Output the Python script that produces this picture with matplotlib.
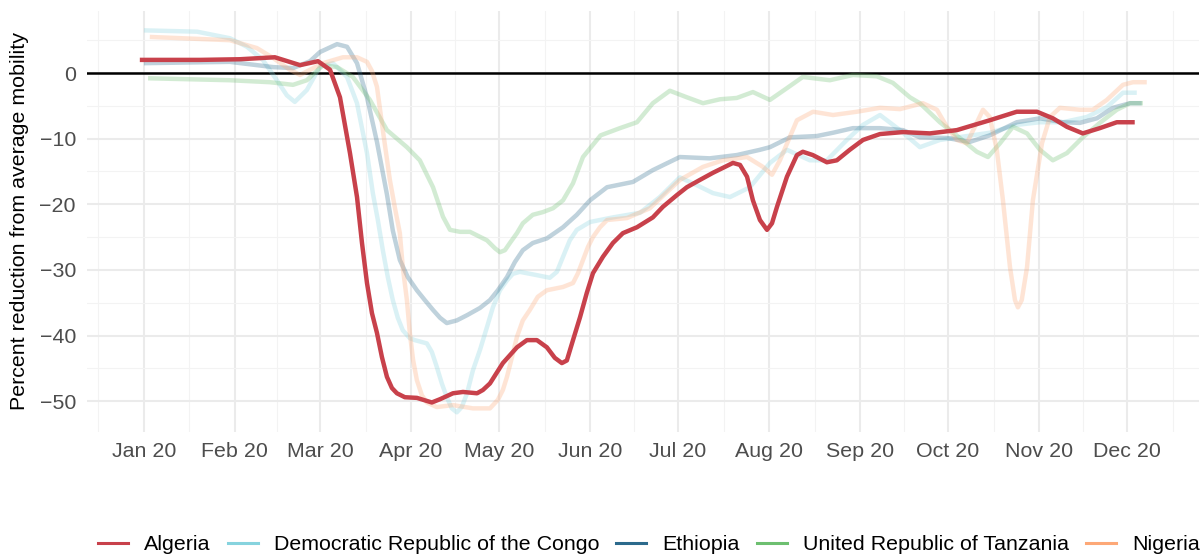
import numpy as np
import pandas as pd
import matplotlib
matplotlib.use("Agg")
import matplotlib.pyplot as plt
import matplotlib.dates as mdates
from matplotlib.lines import Line2D

plt.rcParams['font.family'] = ['Liberation Sans', 'DejaVu Sans']

# days since 2020-01-01 and mobility change (%) per country
algeria_days = [-1.4, 19.1, 32.7, 44.6, 53.2, 59.3, 63.4, 66.8, 70.2, 72.6, 74.3, 76.0, 77.7,
                79.4, 81.1, 82.8, 84.5, 86.2, 88.9, 93.0, 98.1, 100.9, 105.3, 108.7, 113.5,
                115.5, 117.9, 122.3, 127.1, 130.5, 133.9, 137.3, 140.0, 142.4, 144.1, 146.2,
                148.6, 150.9, 153.0, 156.4, 159.8, 163.2, 168.0, 173.4, 176.8, 181.6, 185.0,
                189.4, 193.9, 200.7, 203.1, 205.5, 207.5, 209.9, 212.3, 214.0, 215.7, 219.1,
                222.5, 224.5, 227.9, 232.7, 236.1, 240.5, 245.0, 250.8, 258.6, 267.8, 277.0,
                288.2, 297.4, 304.3, 309.7, 314.5, 319.9, 325.7, 331.5, 337.6]
algeria_vals = [2.0, 2.0, 2.1, 2.4, 1.2, 1.8, 0.5, -3.7, -12.2, -18.9, -25.9, -32.0, -36.6,
                -39.6, -43.3, -46.3, -48.0, -48.8, -49.4, -49.5, -50.2, -49.7, -48.8, -48.6,
                -48.8, -48.3, -47.3, -44.2, -41.8, -40.7, -40.7, -41.8, -43.4, -44.2, -43.8,
                -40.7, -37.2, -33.5, -30.5, -28.0, -25.9, -24.4, -23.5, -22.0, -20.4, -18.6,
                -17.4, -16.3, -15.2, -13.7, -14.0, -15.8, -19.4, -22.4, -23.9, -22.9, -20.4,
                -15.8, -12.5, -12.0, -12.5, -13.6, -13.3, -11.7, -10.2, -9.3, -9.0, -9.2,
                -8.7, -7.2, -5.9, -5.9, -6.9, -8.2, -9.2, -8.4, -7.5, -7.5]

drc_days = [0.0, 18.1, 29.3, 35.1, 40.5, 45.3, 48.7, 51.4, 55.5, 60.0, 64.4, 69.2, 72.6,
            76.0, 78.0, 79.7, 81.4, 83.1, 84.8, 86.5, 88.2, 90.6, 92.3, 96.4, 98.1, 99.8,
            101.5, 103.2, 104.9, 106.6, 108.3, 110.1, 112.1, 114.5, 116.9, 118.9, 121.3,
            123.7, 125.7, 128.1, 133.9, 138.3, 140.7, 142.8, 145.1, 147.5, 152.0, 159.8,
            169.0, 175.8, 182.6, 188.4, 193.9, 199.7, 206.5, 213.3, 219.1, 226.9, 232.7,
            239.5, 245.0, 250.8, 257.6, 264.4, 271.2, 279.0, 288.2, 297.4, 305.3, 313.1,
            321.3, 328.1, 333.6, 338.3]
drc_vals = [6.5, 6.3, 5.3, 4.0, 2.0, -1.1, -3.4, -4.4, -2.6, 1.0, 1.5, -0.6, -4.6, -12.2,
            -18.3, -22.4, -27.0, -31.1, -34.6, -37.3, -39.2, -40.4, -40.7, -41.2, -42.5,
            -44.8, -47.3, -49.4, -51.1, -51.7, -50.9, -48.8, -45.3, -42.2, -38.7, -35.7,
            -33.1, -31.6, -30.6, -30.3, -30.8, -31.2, -30.3, -28.0, -25.5, -23.9, -22.7,
            -22.0, -21.3, -18.9, -15.9, -17.1, -18.3, -18.9, -17.4, -13.7, -11.7, -13.3,
            -13.3, -10.2, -7.9, -6.4, -8.7, -11.3, -10.2, -9.7, -9.1, -7.9, -7.5, -7.5,
            -6.7, -5.2, -3.0, -3.0]

ethiopia_days = [0.0, 29.3, 44.0, 50.8, 56.6, 60.0, 65.8, 69.2, 72.6, 76.0, 79.4, 82.8,
                 84.8, 87.2, 89.9, 93.0, 95.7, 98.5, 100.9, 103.2, 106.6, 110.1, 114.5,
                 117.9, 120.6, 123.7, 126.4, 129.1, 132.5, 137.3, 142.8, 147.5, 152.0, 157.8,
                 166.6, 173.4, 182.6, 192.8, 202.0, 209.9, 213.3, 220.1, 229.3, 234.8, 241.6,
                 250.8, 258.6, 264.4, 273.6, 281.4, 288.2, 297.4, 305.3, 313.1, 318.9, 324.7,
                 330.2, 336.0, 340.0]
ethiopia_vals = [1.5, 1.7, 0.9, 0.75, 1.8, 3.2, 4.4, 4.0, 1.5, -3.7, -10.5, -18.5, -24.0,
                 -28.5, -31.1, -33.1, -34.6, -36.1, -37.3, -38.1, -37.7, -36.9, -35.8, -34.6,
                 -33.1, -31.1, -28.8, -27.0, -25.9, -25.2, -23.5, -21.6, -19.4, -17.4, -16.6,
                 -14.8, -12.8, -13.0, -12.5, -11.7, -11.3, -9.8, -9.6, -9.1, -8.4, -8.4,
                 -8.7, -9.8, -9.9, -10.5, -9.5, -7.5, -6.9, -7.5, -7.6, -6.9, -5.3, -4.6,
                 -4.6]

tanzania_days = [1.4, 29.3, 42.9, 50.8, 55.5, 61.0, 65.8, 71.2, 77.0, 82.8, 89.6, 94.0,
                 98.5, 101.9, 104.3, 107.7, 111.1, 116.9, 119.6, 121.3, 123.0, 124.7, 127.1,
                 129.1, 132.5, 135.9, 139.4, 142.8, 146.2, 149.6, 155.6, 162.2, 168.0, 173.4,
                 179.2, 185.0, 190.5, 196.3, 202.0, 207.5, 213.3, 219.1, 224.5, 233.7, 241.6,
                 249.7, 255.2, 261.0, 264.4, 271.2, 278.0, 283.8, 287.6, 291.7, 296.1, 300.9,
                 305.3, 309.7, 314.5, 319.9, 325.7, 331.5, 336.0, 340.4]
tanzania_vals = [-0.8, -1.1, -1.4, -1.8, -1.1, 1.2, 0.9, -0.6, -4.1, -8.7, -11.3, -13.3,
                 -17.4, -21.9, -23.9, -24.2, -24.2, -25.5, -26.7, -27.3, -27.0, -25.9, -24.4,
                 -22.9, -21.6, -21.2, -20.6, -19.4, -16.8, -12.8, -9.5, -8.4, -7.5, -4.6,
                 -2.7, -3.7, -4.6, -4.0, -3.8, -2.9, -4.1, -2.3, -0.6, -1.1, -0.3, -0.5,
                 -1.5, -3.7, -4.6, -7.5, -9.9, -12.0, -12.8, -10.7, -8.2, -9.2, -11.7, -13.3,
                 -12.2, -9.8, -7.6, -5.6, -4.6, -4.6]

nigeria_days = [2.0, 29.3, 38.5, 44.0, 49.7, 53.2, 56.6, 61.0, 67.8, 72.6, 76.0, 77.7, 79.4,
                81.4, 83.8, 85.5, 87.2, 88.2, 89.6, 90.6, 91.7, 93.0, 94.7, 96.4, 99.8, 105.3,
                112.1, 117.9, 120.6, 122.3, 123.7, 125.4, 127.1, 129.1, 131.5, 134.2, 137.3,
                142.8, 146.2, 147.9, 149.6, 151.3, 153.0, 155.4, 157.8, 164.6, 172.4, 182.6,
                190.5, 197.3, 205.5, 210.9, 214.0, 216.7, 222.5, 228.0, 234.8, 242.9, 250.8,
                257.6, 265.4, 270.2, 273.6, 277.0, 280.4, 283.1, 285.9, 288.2, 290.6, 292.7,
                295.1, 296.8, 297.8, 299.1, 300.9, 302.9, 306.0, 308.7, 312.1, 318.9, 323.3,
                328.1, 333.6, 337.0, 341.7]
nigeria_vals = [5.5, 5.0, 3.8, 2.3, 0.5, -0.3, 0.5, 1.5, 2.4, 2.4, 1.7, 0.3, -2.1, -8.7,
                -16.3, -20.5, -24.4, -29.6, -34.6, -39.6, -43.7, -46.8, -49.1, -50.2, -50.9,
                -50.6, -51.1, -51.1, -49.8, -48.3, -46.3, -43.3, -40.2, -37.7, -36.1, -34.1,
                -33.1, -32.6, -32.0, -30.5, -28.5, -26.5, -25.0, -23.5, -22.4, -22.1, -20.6,
                -16.3, -14.3, -13.3, -12.8, -14.3, -15.5, -13.3, -7.2, -5.9, -6.4, -5.9,
                -5.3, -5.5, -4.6, -5.6, -8.2, -10.2, -10.7, -8.2, -5.6, -6.7, -11.7, -19.4,
                -29.6, -34.6, -35.7, -34.6, -29.6, -19.4, -10.7, -6.7, -5.3, -5.6, -5.6,
                -4.1, -1.8, -1.4, -1.4]

countries = ["Algeria", "Democratic Republic of the Congo", "Ethiopia",
             "United Republic of Tanzania", "Nigeria"]
colors = ["#C8414B", "#86D3DE", "#2C6A8C", "#6DBF70", "#FDA877"]
series = [(algeria_days, algeria_vals), (drc_days, drc_vals),
          (ethiopia_days, ethiopia_vals), (tanzania_days, tanzania_vals),
          (nigeria_days, nigeria_vals)]

start = pd.Timestamp("2020-01-01")
x0 = mdates.date2num(start)

fig = plt.figure(figsize=(12.01, 5.56), dpi=100)
ax = fig.add_axes([87 / 1201, 124 / 556, 1112 / 1201, 421 / 556])

# faded countries first, Algeria on top
for i in [1, 2, 3, 4, 0]:
    d, v = series[i]
    alpha = 1.0 if i == 0 else 0.3
    ax.plot(x0 + np.asarray(d), v, color=colors[i], lw=3.2, alpha=alpha,
            solid_joinstyle="round", solid_capstyle="butt", zorder=4 if i == 0 else 3)

ax.axhline(0, color="black", lw=1.8, zorder=2)

ax.set_xlim(x0 - 19.4, x0 + 359.5)
ax.set_ylim(-54.7, 9.45)

months = pd.date_range("2019-12-01", "2021-01-01", freq="MS")
mnum = mdates.date2num(months)
ax.set_xticks(mnum[1:-1])
ax.set_xticks((mnum[:-1] + mnum[1:]) / 2, minor=True)
ax.xaxis.set_major_formatter(mdates.DateFormatter("%b %y"))
ax.set_yticks([0, -10, -20, -30, -40, -50])
ax.set_yticks([5, -5, -15, -25, -35, -45], minor=True)

ax.grid(which="major", color="#EBEBEB", lw=1.5, zorder=0)
ax.grid(which="minor", color="#F3F3F3", lw=0.8, zorder=0)
ax.set_axisbelow(True)
for s in ax.spines.values():
    s.set_visible(False)
ax.tick_params(which="both", length=0)
ax.tick_params(axis="x", labelsize=15.4, labelcolor="#4D4D4D", pad=7)
ax.tick_params(axis="y", labelsize=15.4, labelcolor="#4D4D4D", pad=8)

fig.text(20 / 1201, 1 - 221 / 556, "Percent reduction from average mobility",
         rotation=90, ha="center", va="center", fontsize=15.4, color="black")

handles = [Line2D([], [], color=c, lw=2.2) for c in colors]
fig.legend(handles, countries, loc="center left", bbox_to_anchor=(98 / 1201, 11 / 556),
           ncol=5, frameon=False, fontsize=15.4, handlelength=1.4, handletextpad=0.75,
           columnspacing=0.8, borderpad=0, borderaxespad=0)

fig.savefig("out.png", dpi=100)
